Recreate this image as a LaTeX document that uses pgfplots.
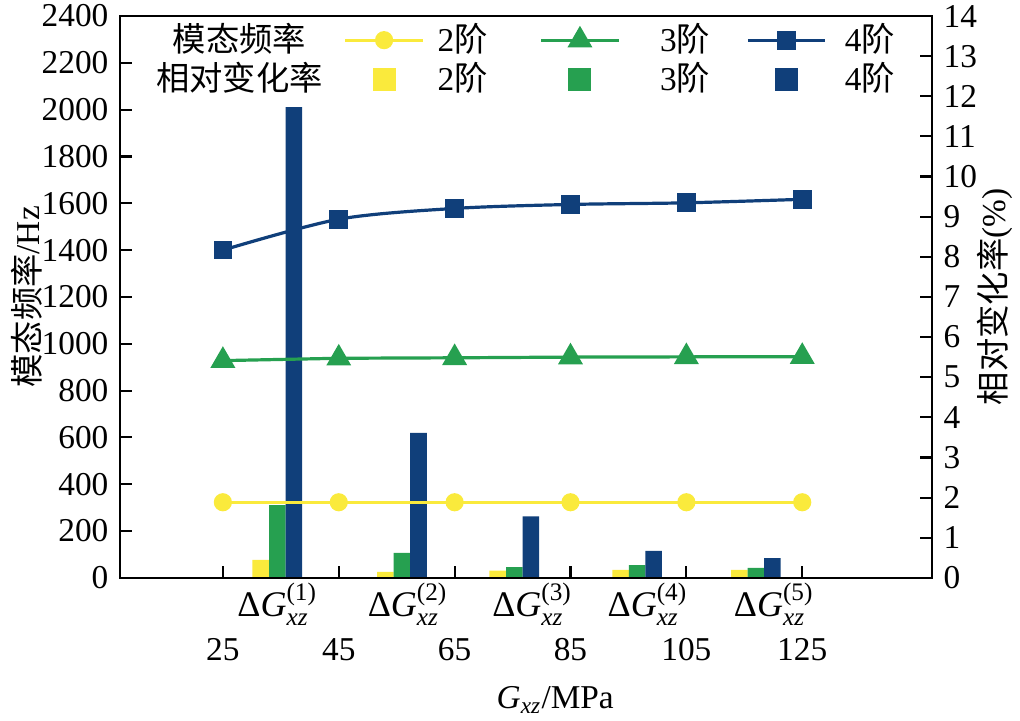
\documentclass[border=0pt]{standalone}
\usepackage{fontspec}
\setmainfont{Liberation Serif}
\newfontfamily\cjk{Noto Sans CJK SC}
\usepackage{amsmath}
\usepackage{pgfplots}
\pgfplotsset{compat=1.18}
\definecolor{cy}{RGB}{250,234,60}
\definecolor{cg}{RGB}{38,160,80}
\definecolor{cb}{RGB}{16,63,122}
\newcommand{\dg}[1]{$\text{Δ\textit{G}}^{\text{(#1)}}_{\text{\textit{xz}}}$}
\begin{document}
\fontsize{12.5pt}{15pt}\selectfont
\begin{tikzpicture}
\pgfplotsset{
 base/.style={scale only axis, width=304.5pt, height=210.7pt, xmin=7.24, xmax=147.4,
   tick align=inside, major tick length=4.5pt, tick style={black, line width=0.8pt},
   axis line style={line width=0.8pt},
   /pgf/number format/assume math mode=true, /pgf/number format/1000 sep={},
   yticklabel={\textrm{\pgfmathprintnumber[assume math mode=true]{\tick}}},
   tick label style={font=\fontsize{12.5pt}{15pt}\selectfont\rmfamily}}
}
\begin{axis}[base, axis x line*=bottom, axis y line*=right, ymin=0, ymax=14, ytick={0,1,...,14},
  xtick={34.4,56.9,78.4,98.3,120.1},
  xticklabels={{\dg{1}},{\dg{2}},{\dg{3}},{\dg{4}},{\dg{5}}},
  xtick style={draw=none},
  xticklabel style={anchor=center, yshift=-10pt, font=\fontsize{13.5pt}{16pt}\selectfont},
  every axis y label/.style={at={(axis description cs:1.0776,0.5)},rotate=90,anchor=center},
  ylabel={{\cjk 相对变化率}(\%)}]
\addplot[ybar, bar width=2.86, bar shift=0pt, fill=cy, draw=none] coordinates {(31.54,0.45) (53.04,0.15) (72.44,0.18) (93.64,0.20) (114.14,0.20)};
\addplot[ybar, bar width=2.86, bar shift=0pt, fill=cg, draw=none] coordinates {(34.4,1.81) (55.9,0.62) (75.3,0.27) (96.5,0.32) (117.0,0.25)};
\addplot[ybar, bar width=2.86, bar shift=0pt, fill=cb, draw=none] coordinates {(37.26,11.73) (58.76,3.61) (78.16,1.53) (99.36,0.67) (119.86,0.49)};
\end{axis}
\begin{axis}[base, ymin=0, ymax=2400, ytick={0,200,...,2400}, xtick={25,45,65,85,105,125},
  xticklabel={\textrm{\pgfmathprintnumber[assume math mode=true]{\tick}}},
  xtick pos=left, ytick pos=left,
  xticklabel style={anchor=center, yshift=-27pt},
  every axis y label/.style={at={(axis description cs:-0.1145,0.5)},rotate=90,anchor=center},
  every axis x label/.style={at={(axis description cs:0.536,-0.217)},anchor=center},
  ylabel={{\cjk 模态频率}/Hz},
  xlabel={\textit{G}\textsubscript{\textit{xz}}/MPa},
  legend style={draw=none, fill=none, at={(0.030,0.997)}, anchor=north west, legend columns=4,
    column sep=0pt, row sep=2.2pt, nodes={inner xsep=0pt, inner ysep=0pt, anchor=west},
    font=\fontsize{12.5pt}{15pt}\selectfont},
  legend cell align=left,
  legend image code/.code={\draw[mark repeat=2,mark phase=2,#1] plot coordinates {(0pt,0pt) (14.5pt,0pt) (29pt,0pt)};}
  ]
\addlegendimage{empty legend}\addlegendentry{\makebox[65pt][c]{\cjk 模态频率}\hspace{6.6pt}\mbox{}}
\addplot[color=cy, line width=1.2pt, mark=*, mark size=2.8pt] coordinates {(25,323) (45,323) (65,323) (85,323) (105,323) (125,323)};
\addlegendentry{\hspace{5pt}2{\cjk 阶}\hspace{19.5pt}\mbox{}}
\addplot[color=cg, line width=1.2pt, mark=triangle*, mark size=4.2pt] coordinates {(25,928) (45,938) (65,940) (85,943) (105,944) (125,945)};
\addlegendentry{\hspace{15pt}3{\cjk 阶}\hspace{13.5pt}\mbox{}}
\addplot[color=cb, line width=1.2pt, mark=square*, mark size=2.9pt, smooth, tension=0.5] coordinates {(25,1400) (45,1532) (65,1578) (85,1595) (105,1602) (125,1617)};
\addlegendentry{\hspace{6.75pt}4{\cjk 阶}}
\addlegendimage{empty legend}\addlegendentry{\makebox[65pt][c]{\cjk 相对变化率}\hspace{6.6pt}\mbox{}}
\addlegendimage{only marks, mark=square*, mark size=4.1pt, color=cy}\addlegendentry{\hspace{5pt}2{\cjk 阶}\hspace{19.5pt}\mbox{}}
\addlegendimage{only marks, mark=square*, mark size=4.1pt, color=cg}\addlegendentry{\hspace{15pt}3{\cjk 阶}\hspace{13.5pt}\mbox{}}
\addlegendimage{only marks, mark=square*, mark size=4.1pt, color=cb}\addlegendentry{\hspace{6.75pt}4{\cjk 阶}}
\end{axis}
\pgfresetboundingbox
\path (-45pt,-53.6pt) rectangle (337.5pt,216.7pt);
\end{tikzpicture}
\end{document}
